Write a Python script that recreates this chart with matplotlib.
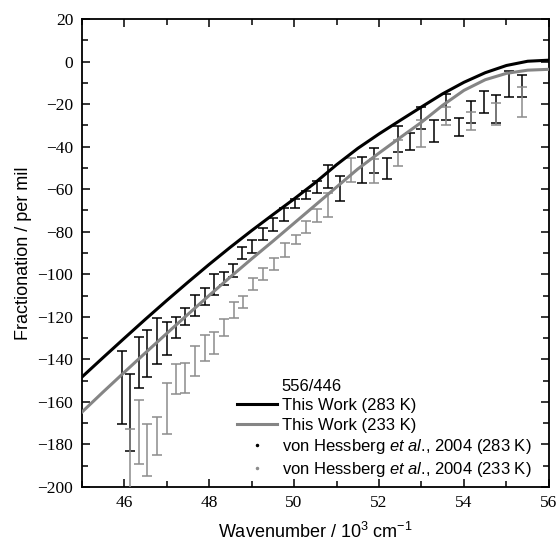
import matplotlib as mpl
mpl.use('Agg')
import matplotlib.pyplot as plt
from matplotlib.lines import Line2D
from matplotlib.ticker import MultipleLocator

plt.rcParams['mathtext.fontset'] = 'custom'
plt.rcParams['mathtext.rm'] = 'Liberation Sans'
plt.rcParams['mathtext.it'] = 'Liberation Sans:italic'

# model curves (This Work)
warm_x = [45.0, 45.5, 46.0, 46.5, 47.0, 47.5, 48.0, 48.5, 49.0, 49.5, 50.0, 50.5,
          51.0, 51.5, 52.0, 52.5, 53.0, 53.5, 54.0, 54.5, 55.0, 55.5, 56.0]
warm_y = [-148.5, -139.3, -130.2, -121.2, -112.4, -103.8, -95.4, -87.3, -79.5, -72.0, -64.6, -56.9,
          -48.5, -40.8, -34.0, -27.6, -21.3, -15.1, -9.7, -5.2, -1.8, 0.2, 0.7]
cold_x = [45.0, 45.5, 46.0, 46.5, 47.0, 47.5, 48.0, 48.5, 49.0, 49.5, 50.0, 50.5,
          51.0, 51.5, 52.0, 52.5, 53.0, 53.5, 54.0, 54.5, 55.0, 55.5, 56.0]
cold_y = [-165.0, -155.5, -146.2, -137.0, -127.9, -118.9, -110.0, -101.3, -92.8, -84.5, -76.0, -67.5,
          -59.0, -50.5, -43.0, -35.7, -28.5, -20.5, -13.5, -8.5, -5.5, -4.0, -3.6]

# von Hessberg et al. 2004, 283 K (top / bottom of error bar)
vh_warm_x = [45.96, 46.14, 46.36, 46.55, 46.78, 47.00, 47.22, 47.44, 47.67, 47.90, 48.12, 48.35,
             48.57, 48.78, 49.01, 49.26, 49.51, 49.77, 50.02, 50.28, 50.53, 50.80, 51.09, 51.61,
             51.88, 52.18, 52.45, 52.73, 53.00, 53.29, 53.58, 53.88, 54.17, 54.47, 54.76, 55.06, 55.36]
vh_warm_top = [-136.1, -147.0, -129.4, -126.2, -120.4, -122.3, -120.0, -116.0, -109.8, -106.6, -99.9, -99.0,
               -95.3, -87.0, -83.9, -78.1, -73.7, -69.0, -64.8, -60.7, -56.0, -48.6, -53.6, -44.8,
               -40.5, -45.5, -30.5, -33.7, -21.4, -27.6, -15.4, -26.7, -18.5, -14.0, -15.7, -4.6, -6.3]
vh_warm_bot = [-170.3, -183.0, -153.3, -148.2, -142.3, -138.0, -130.2, -123.9, -119.5, -114.5, -109.8, -105.0,
               -101.1, -93.0, -89.8, -83.9, -79.7, -75.0, -69.0, -64.8, -62.0, -59.6, -65.5, -57.0,
               -52.6, -55.2, -42.4, -41.6, -31.6, -37.7, -27.3, -34.9, -29.0, -24.2, -29.0, -16.8, -16.5]

# von Hessberg et al. 2004, 233 K
vh_cold_x = [46.14, 46.36, 46.55, 46.78, 47.00, 47.22, 47.44, 47.67, 47.90, 48.12, 48.36, 48.59,
             48.80, 49.04, 49.27, 49.52, 49.78, 50.04, 50.28, 50.53, 50.80, 51.35, 51.88, 52.45,
             53.00, 53.58, 54.17, 54.76, 55.37]
vh_cold_top = [-173.0, -159.1, -170.6, -167.0, -151.0, -142.3, -141.9, -133.7, -128.6, -127.0, -121.0, -113.2,
               -110.1, -101.6, -97.2, -92.2, -85.5, -81.6, -74.9, -69.5, -62.0, -45.5, -46.0, -36.9,
               -27.5, -21.2, -23.5, -19.6, -11.8]
vh_cold_bot = [-237.0, -189.2, -194.9, -185.0, -175.0, -156.4, -156.0, -147.8, -140.6, -137.5, -129.0, -120.7,
               -116.0, -107.4, -102.7, -98.0, -91.8, -85.8, -80.8, -75.3, -73.0, -56.5, -57.0, -49.0,
               -40.0, -30.0, -32.0, -29.8, -25.9]


def mid_err(top, bot):
    mid = [(t + b) / 2.0 for t, b in zip(top, bot)]
    err = [(t - b) / 2.0 for t, b in zip(top, bot)]
    return mid, err


fig = plt.figure(figsize=(5.59, 5.47), dpi=100)
ax = fig.add_axes([0.146, 0.11, 0.836, 0.855])

m, e = mid_err(vh_warm_top, vh_warm_bot)
ax.errorbar(vh_warm_x, m, yerr=e, fmt='none', ecolor='black', elinewidth=1.1, capsize=3.5, capthick=1.1, zorder=2)
m, e = mid_err(vh_cold_top, vh_cold_bot)
ax.errorbar(vh_cold_x, m, yerr=e, fmt='none', ecolor='#8c8c8c', elinewidth=1.1, capsize=3.5, capthick=1.1, zorder=3)

ax.plot(warm_x, warm_y, color='black', lw=2.2, zorder=5, solid_joinstyle='round')
ax.plot(cold_x, cold_y, color='#858585', lw=2.2, zorder=4, solid_joinstyle='round')

ax.set_xlim(45, 56)
ax.set_ylim(-200, 20)
ax.xaxis.set_major_locator(MultipleLocator(2))
ax.xaxis.set_minor_locator(MultipleLocator(1))
ax.yaxis.set_major_locator(MultipleLocator(20))
ax.yaxis.set_minor_locator(MultipleLocator(10))
ax.tick_params(which='both', direction='in', top=True, right=True, width=1.1)
ax.tick_params(which='major', length=6, labelsize=12.5, pad=6)
ax.tick_params(which='minor', length=4)
for lab in ax.get_xticklabels() + ax.get_yticklabels():
    lab.set_fontfamily('Liberation Serif')
for s in ax.spines.values():
    s.set_linewidth(1.3)

ax.set_xlabel('Wavenumber / 10$^3$ cm$^{-1}$', fontfamily='Liberation Sans', fontsize=13, labelpad=8)
ax.set_ylabel('Fractionation / per mil', fontfamily='Liberation Sans', fontsize=13, labelpad=4)

handles = [
    Line2D([], [], linestyle='none'),
    Line2D([], [], color='black', lw=2.2),
    Line2D([], [], color='#858585', lw=2.2),
    Line2D([], [], color='black', marker='.', markersize=3, linestyle='none'),
    Line2D([], [], color='#8c8c8c', marker='.', markersize=3, linestyle='none'),
]
labels = ['556/446', 'This Work (283 K)', 'This Work (233 K)',
          r'von Hessberg $\mathit{et\ al}$., 2004 (283 K)',
          r'von Hessberg $\mathit{et\ al}$., 2004 (233 K)']
ax.legend(handles, labels, loc='lower left', bbox_to_anchor=(0.312, -0.005), frameon=False,
          prop={'family': 'Liberation Sans', 'size': 12}, handlelength=2.4, handletextpad=0.25,
          labelspacing=0.26, borderaxespad=0.2)

fig.savefig('out.png', dpi=100)
